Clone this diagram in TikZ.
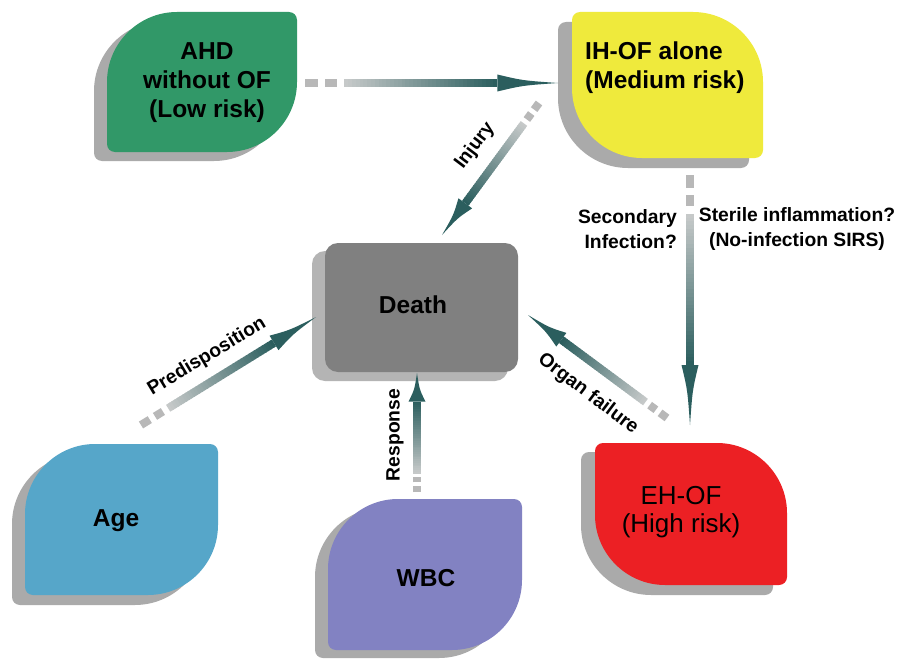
\documentclass[tikz,border=0pt]{standalone}
\usepackage{fontspec}
\setmainfont{Liberation Sans}
\usetikzlibrary{calc}
\definecolor{shgray}{HTML}{AAAAAA}
\definecolor{dshgray}{HTML}{B4B4B4}
\definecolor{cgreen}{HTML}{319868}
\definecolor{cyellow}{HTML}{EFEA3C}
\definecolor{cdeath}{HTML}{808080}
\definecolor{cage}{HTML}{56A6C9}
\definecolor{cwbc}{HTML}{8282C2}
\definecolor{cred}{HTML}{EC2024}
\definecolor{dashgray}{HTML}{B8B8B8}
\definecolor{galight}{HTML}{C6C9C9}
\definecolor{gadark}{HTML}{2B5E5E}
% leaf shape, big corners top-left and bottom-right
\newcommand\leafA[6][]{%
  \path[#1] ({#2},{#3+#6}) .. controls ({#2},{#3+0.45*#6}) and ({#2+0.45*#6},{#3}) .. ({#2+#6},{#3})
   -- ({#4-8},{#3}) .. controls ({#4-3.6},{#3}) and ({#4},{#3+3.6}) .. ({#4},{#3+8})
   -- ({#4},{#5-#6}) .. controls ({#4},{#5-0.45*#6}) and ({#4-0.45*#6},{#5}) .. ({#4-#6},{#5})
   -- ({#2+8},{#5}) .. controls ({#2+3.6},{#5}) and ({#2},{#5-3.6}) .. ({#2},{#5-8}) -- cycle;}
% leaf shape, big corners top-right and bottom-left
\newcommand\leafB[6][]{%
  \path[#1] ({#2},{#3+8}) .. controls ({#2},{#3+3.6}) and ({#2+3.6},{#3}) .. ({#2+8},{#3})
   -- ({#4-#6},{#3}) .. controls ({#4-0.45*#6},{#3}) and ({#4},{#3+0.45*#6}) .. ({#4},{#3+#6})
   -- ({#4},{#5-8}) .. controls ({#4},{#5-3.6}) and ({#4-3.6},{#5}) .. ({#4-8},{#5})
   -- ({#2+#6},{#5}) .. controls ({#2+0.45*#6},{#5}) and ({#2},{#5-0.45*#6}) .. ({#2},{#5-#6}) -- cycle;}
% gradient arrow from tail #1 to tip #2
\newcommand\garrow[2]{%
  \path (#1) -- (#2) coordinate[pos=0] (g0) coordinate[pos=0.05] (g1)
    coordinate[pos=0.08] (g2) coordinate[pos=0.125] (g3)
    coordinate[pos=0.155] (gs) coordinate[pos=0.76] (gb) coordinate[pos=0.86] (gc);
  \draw[dashgray, line width=8pt] (g0) -- (g1);
  \draw[dashgray, line width=8pt] (g2) -- (g3);
  \foreach \k in {0,...,39}{%
    \pgfmathsetmacro\fa{\k/40}%
    \pgfmathsetmacro\fb{min(1,(\k+1.5)/40)}%
    \pgfmathtruncatemacro\pc{100*\k/39}%
    \draw[line width=8pt, draw=gadark!\pc!galight] ($(gs)!\fa!(gb)$) -- ($(gs)!\fb!(gb)$);
  }
  \fill[gadark] ($(gb)!8.5pt!90:(#2)$) .. controls ($(gc)!2.5pt!90:(#2)$) .. (#2)
     .. controls ($(gc)!2.5pt!-90:(#2)$) .. ($(gb)!8.5pt!-90:(#2)$) -- cycle;
}
\begin{document}
\begin{tikzpicture}[x=1pt,y=-1pt,
  ntext/.style={font=\fontsize{24.5}{29}\selectfont\bfseries, inner sep=0pt},
  ntextr/.style={font=\fontsize{26}{28}\selectfont, inner sep=0pt},
  lbl/.style={font=\fontsize{19.3}{24.5}\selectfont\bfseries, inner sep=0pt}]
\fill[white] (0,0) rectangle (905,661);
\useasboundingbox (0,0) rectangle (905,661);

% shapes with shadows
\leafA[fill=shgray]{107-13}{12+9}{297-13}{152+9}{70}
\leafA[fill=cgreen]{107}{12}{297}{152}{70}
\leafB[fill=shgray]{572-14}{12+10}{763-14}{158+10}{70}
\leafB[fill=cyellow]{572}{12}{763}{158}{70}
\fill[dshgray, rounded corners=13pt] (312,251) rectangle (508,381);
\fill[cdeath, rounded corners=13pt] (325,243) rectangle (518,372);
\leafA[fill=shgray]{25-13}{444+10}{218-13}{595+10}{70}
\leafA[fill=cage]{25}{444}{218}{595}{70}
\leafA[fill=shgray]{328-13}{499+8}{522-13}{650+8}{70}
\leafA[fill=cwbc]{328}{499}{522}{650}{70}
\leafB[fill=shgray]{595-14}{443+9}{787-14}{585+10}{70}
\leafB[fill=cred]{595}{443}{787}{585}{70}

% texts
\node[ntext, align=center] (ahd) at (207,83) {AHD\\without OF\\(Low risk)};
\node[ntext, align=left, anchor=west] (ih) at (585,68) {IH-OF alone\\(Medium risk)};
\node[ntext] (death) at (413,305) {Death};
\node[ntext] (age) at (116,521) {Age};
\node[ntext] (wbc) at (426,578) {WBC};
\node[ntextr, align=center] (eh) at (681,512) {EH-OF\\(High risk)};

% arrow end points
\coordinate (t1) at (305,83);  \coordinate (h1) at (558,83);
\coordinate (t2) at (539,103); \coordinate (h2) at (442,235);
\coordinate (t3) at (690,175); \coordinate (h3) at (690,425);
\coordinate (t4) at (667,418); \coordinate (h4) at (528,315);
\coordinate (t5) at (417,492); \coordinate (h5) at (417,373);
\coordinate (t6) at (141,425); \coordinate (h6) at (316,317);

\garrow{t1}{h1}
\garrow{t2}{h2}
\garrow{t3}{h3}
\garrow{t4}{h4}
\garrow{t5}{h5}
\garrow{t6}{h6}

% edge labels
\node[lbl, rotate=53] (linj) at (475,146) {Injury};
\node[lbl, align=right, anchor=east] (lsec) at (677,229) {Secondary\\Infection?};
\node[lbl, align=center] (lster) at (797,229) {Sterile inflammation?\\(No-infection SIRS)};
\node[lbl, rotate=-37] (lorg) at (588,394) {Organ failure};
\node[lbl, rotate=90] (lresp) at (395,435) {Response};
\node[lbl, rotate=31] (lpred) at (207,357) {Predisposition};
\end{tikzpicture}
\end{document}
